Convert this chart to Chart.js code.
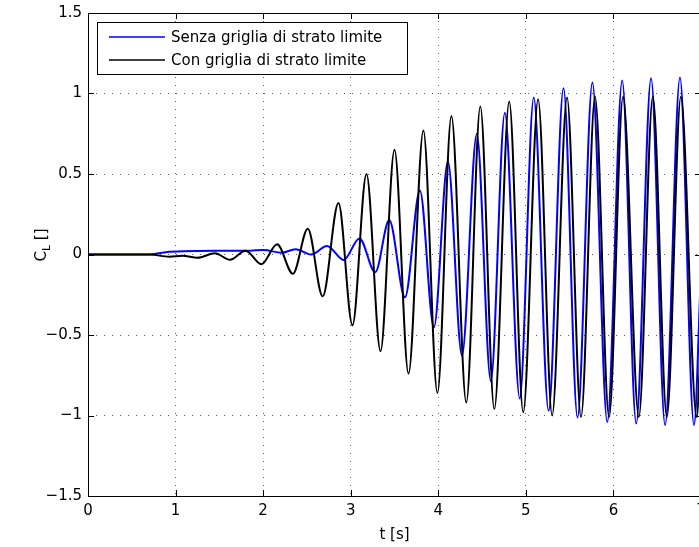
<!DOCTYPE html>
<html>
<head>
<meta charset="utf-8">
<script src="https://cdn.jsdelivr.net/npm/chart.js@4/dist/chart.umd.min.js"></script>
<style>
  html, body { margin: 0; padding: 0; background: #fff; overflow: hidden; }
  #wrap { width: 699px; height: 547px; overflow: hidden; }
</style>
</head>
<body>
<div id="wrap"><canvas id="chart" width="720" height="547"></canvas></div>
<script>
const FONT = "'DejaVu Sans', sans-serif";

// axis ticks
const xTicks = [0, 1, 2, 3, 4, 5, 6, 7];
const yTicks = [-1.5, -1, -0.5, 0, 0.5, 1, 1.5];

const seriesNames = ["Senza griglia di strato limite", "Con griglia di strato limite"];

// blue: senza griglia (peaks/troughs)
const blueT = [0, 0.70, 0.93, 1.47, 1.85, 2.00, 2.21, 2.37, 2.55, 2.73,
  2.92, 3.10, 3.28, 3.44, 3.62, 3.79, 3.95, 4.11, 4.27, 4.44,
  4.60, 4.76, 4.93, 5.09, 5.26, 5.43, 5.59, 5.76, 5.93, 6.10,
  6.26, 6.43, 6.59, 6.76, 6.92, 7.0];
const blueCL = [0, 0, 0.017, 0.024, 0.024, 0.028, 0.011, 0.033, 0.0, 0.053,
  -0.034, 0.10, -0.11, 0.214, -0.266, 0.397, -0.452, 0.577, -0.628, 0.749,
  -0.786, 0.881, -0.894, 0.975, -0.971, 1.033, -1.012, 1.068, -1.04, 1.08,
  -1.05, 1.094, -1.06, 1.10, -1.06, -0.1];

// black: con griglia
const blackT = [0, 0.70, 0.93, 1.08, 1.25, 1.45, 1.62, 1.80, 1.98, 2.16,
  2.34, 2.51, 2.68, 2.86, 3.02, 3.18, 3.34, 3.50, 3.66, 3.83,
  3.99, 4.15, 4.32, 4.48, 4.64, 4.81, 4.97, 5.14, 5.30, 5.47,
  5.63, 5.79, 5.95, 6.11, 6.29, 6.45, 6.61, 6.77, 6.95, 7.0];
const blackCL = [0, 0, -0.014, -0.008, -0.02, 0.008, -0.033, 0.024, -0.061, 0.063,
  -0.12, 0.16, -0.26, 0.32, -0.44, 0.50, -0.60, 0.65, -0.74, 0.77,
  -0.86, 0.86, -0.92, 0.92, -0.96, 0.95, -0.98, 0.965, -1.0, 0.975,
  -1.01, 0.98, -1.01, 0.98, -1.01, 0.98, -1.01, 0.98, -1.01, -0.5];

function pts(ts, vs) {
  return ts.map((t, i) => ({ x: t, y: vs[i] }));
}

function fmt(v) {
  return String(v).replace("-", "\u2212");
}

// matlab-ish box, inner ticks, legend and the y label with subscript
const matlabAxes = {
  id: "matlabAxes",
  afterDraw(chart) {
    const ctx = chart.ctx;
    const a = chart.chartArea;
    const xs = chart.scales.x, ys = chart.scales.y;
    ctx.save();
    ctx.strokeStyle = "#000";
    ctx.lineWidth = 1;
    ctx.beginPath();
    xTicks.forEach(v => {
      const px = Math.round(xs.getPixelForValue(v)) + 0.5;
      ctx.moveTo(px, a.bottom); ctx.lineTo(px, a.bottom - 6);
      ctx.moveTo(px, a.top); ctx.lineTo(px, a.top + 6);
    });
    yTicks.forEach(v => {
      const py = Math.round(ys.getPixelForValue(v)) + 0.5;
      ctx.moveTo(a.left, py); ctx.lineTo(a.left + 6, py);
      ctx.moveTo(a.right, py); ctx.lineTo(a.right - 6, py);
    });
    ctx.stroke();
    ctx.strokeRect(Math.round(a.left) + 0.5, Math.round(a.top) + 0.5,
      Math.round(a.right - a.left), Math.round(a.bottom - a.top));

    // legend
    const lx = 97, ly = 22, lw = 310, lh = 52;
    ctx.fillStyle = "#fff";
    ctx.fillRect(lx, ly, lw, lh);
    ctx.strokeRect(lx + 0.5, ly + 0.5, lw, lh);
    const colors = ["#0000ff", "#000000"];
    ctx.font = "15px " + FONT;
    ctx.textBaseline = "middle";
    ctx.textAlign = "left";
    seriesNames.forEach((name, i) => {
      const y = ly + 15 + i * 23;
      ctx.strokeStyle = colors[i];
      ctx.lineWidth = 1.5;
      ctx.beginPath();
      ctx.moveTo(lx + 12, y); ctx.lineTo(lx + 68, y);
      ctx.stroke();
      ctx.fillStyle = "#000";
      ctx.fillText(name, lx + 74, y + 1);
    });

    // y label C_L []
    ctx.translate(46, 245);
    ctx.rotate(-Math.PI / 2);
    ctx.textBaseline = "alphabetic";
    ctx.font = "15px " + FONT;
    const wC = ctx.measureText("C").width;
    const wB = ctx.measureText(" []").width;
    ctx.font = "11px " + FONT;
    const wL = ctx.measureText("L").width;
    let x0 = -(wC + wL + wB) / 2;
    ctx.fillStyle = "#000";
    ctx.font = "15px " + FONT;
    ctx.fillText("C", x0, 0);
    ctx.font = "11px " + FONT;
    ctx.fillText("L", x0 + wC, 4);
    ctx.font = "15px " + FONT;
    ctx.fillText(" []", x0 + wC + wL, 0);
    ctx.restore();
  }
};

const gridColor = "#5a5a5a";

new Chart(document.getElementById("chart"), {
  type: "scatter",
  data: {
    datasets: [
      {
        label: seriesNames[0],
        data: pts(blueT, blueCL),
        borderColor: "#0000ff",
        backgroundColor: "#0000ff",
        borderWidth: 2,
        showLine: true,
        pointRadius: 0,
        cubicInterpolationMode: "monotone",
        order: 1
      },
      {
        label: seriesNames[1],
        data: pts(blackT, blackCL),
        borderColor: "#000000",
        backgroundColor: "#000000",
        borderWidth: 2,
        showLine: true,
        pointRadius: 0,
        cubicInterpolationMode: "monotone",
        order: 0
      }
    ]
  },
  options: {
    responsive: false,
    devicePixelRatio: 1,
    animation: false,
    layout: { padding: { left: 0, right: 19, top: 13, bottom: 0 } },
    plugins: {
      legend: { display: false },
      tooltip: { enabled: false }
    },
    scales: {
      x: {
        type: "linear",
        min: 0,
        max: 7,
        afterBuildTicks: s => { s.ticks = xTicks.map(v => ({ value: v })); },
        afterFit: s => { s.height = 51; s.paddingLeft = 0; s.paddingRight = 0; },
        grid: { color: gridColor, lineWidth: 1, drawTicks: false },
        border: { display: false, dash: [1, 7] },
        ticks: {
          padding: 6,
          color: "#000",
          font: { family: FONT, size: 15 },
          maxRotation: 0,
          callback: v => fmt(v)
        },
        title: {
          display: true,
          text: "t [s]",
          color: "#000",
          font: { family: FONT, size: 15 },
          padding: { top: 0, bottom: 3 }
        }
      },
      y: {
        type: "linear",
        min: -1.5,
        max: 1.5,
        afterBuildTicks: s => { s.ticks = yTicks.map(v => ({ value: v })); },
        afterFit: s => { s.width = 88; s.paddingTop = 0; s.paddingBottom = 0; },
        grid: { color: gridColor, lineWidth: 1, drawTicks: false },
        border: { display: false, dash: [1, 7] },
        ticks: {
          padding: 6,
          color: "#000",
          font: { family: FONT, size: 15 },
          callback: v => fmt(v)
        }
      }
    }
  },
  plugins: [matlabAxes]
});
</script>
</body>
</html>
